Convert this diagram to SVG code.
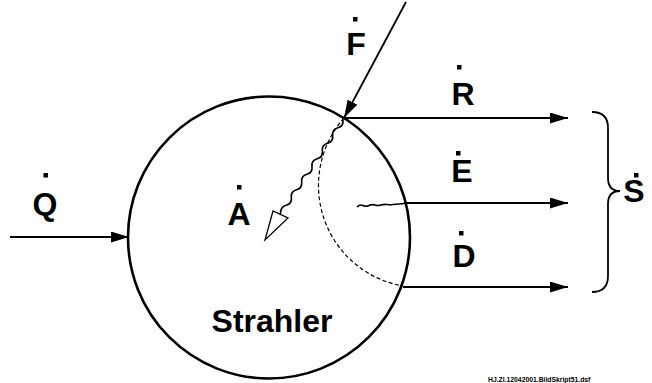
<svg xmlns="http://www.w3.org/2000/svg" width="652" height="383" viewBox="0 0 652 383">
<style>
.lbl{font-family:"Liberation Sans",Arial,sans-serif;font-weight:bold;font-size:32px;fill:#000;text-anchor:middle}
.dot{fill:#000}
.ln{stroke:#000;stroke-width:1.8;fill:none}
.wv{stroke:#000;stroke-width:1.6;fill:none}
.foot{font-family:"Liberation Sans",Arial,sans-serif;font-weight:bold;font-size:6.8px;fill:#000}
</style>
<defs>
<marker id="ah" markerUnits="userSpaceOnUse" markerWidth="19" markerHeight="11" refX="18" refY="5.5" orient="auto">
<path d="M0,0 L18,5.5 L0,11 z" fill="#000"/>
</marker>
</defs>
<g id="strahler">
<circle cx="269" cy="237.5" r="141" fill="none" stroke="#000" stroke-width="2.6"/>
<text class="lbl" x="272" y="332">Strahler</text>
</g>
<g id="dashed-arc">
<path d="M344,118 A102,102 0 0 0 403,286" fill="none" stroke="#000" stroke-width="1.2" stroke-dasharray="4,2.5"/>
</g>
<g id="connectors">
<line class="ln" x1="10" y1="237" x2="129" y2="237" marker-end="url(#ah)"/>
<line class="ln" x1="406" y1="2" x2="344" y2="118" marker-end="url(#ah)"/>
<line class="ln" x1="344" y1="118" x2="568" y2="118" marker-end="url(#ah)"/>
<line class="ln" x1="406" y1="203" x2="568" y2="203" marker-end="url(#ah)"/>
<line class="ln" x1="403" y1="287" x2="568" y2="287" marker-end="url(#ah)"/>
<path class="wv" d="M343,120 Q343.7,126.1 337.83,127.75 Q332,129.4 332.67,135.5 Q333.4,141.6 327.5,143.25 Q321.6,144.9 322.33,151 Q323.1,157.1 317.17,158.75 Q311.3,160.4 312,166.5 Q312.7,172.6 306.83,174.25 Q301,175.9 301.67,182 Q302.4,188.1 296.5,189.75 Q290.6,191.4 291.33,197.5 Q292.1,203.6 286.17,205.25 Q280.3,206.9 280.5,214"/>
<path d="M265,240 L273,211 L288,218 z" fill="#fff" stroke="#000" stroke-width="1.3"/>
<path class="wv" d="M357,207 q3,-3 6,-1.5 t6,0 t6,-0.5 t6,0 t6,-0.5 t6,0 t6,-0.5 t7,-1"/>
</g>
<g id="label-Q"><text class="lbl" x="45" y="215">Q</text><rect class="dot" x="43.5" y="173" width="4.5" height="4.5"/></g>
<g id="label-F"><text class="lbl" x="356" y="55">F</text><rect class="dot" x="353" y="17" width="4.5" height="4.5"/></g>
<g id="label-A"><text class="lbl" x="239" y="225">A</text><rect class="dot" x="237" y="185" width="4.5" height="4.5"/></g>
<g id="label-R"><text class="lbl" x="463" y="105">R</text><rect class="dot" x="457" y="65" width="4.5" height="4.5"/></g>
<g id="label-E"><text class="lbl" x="462" y="182">E</text><rect class="dot" x="456" y="151" width="4.5" height="4.5"/></g>
<g id="label-D"><text class="lbl" x="464" y="267">D</text><rect class="dot" x="459" y="231" width="4.5" height="4.5"/></g>
<g id="label-S">
<path d="M592,112 Q608,112 608,128 L608,178 Q608,191 620,191 Q608,191 608,204 L608,276 Q608,292 592,292" fill="none" stroke="#000" stroke-width="1.8"/>
<text class="lbl" x="634" y="202">S</text><rect class="dot" x="634" y="173" width="4.5" height="4.5"/>
</g>
<text class="foot" x="488" y="382">HJ.Zl.12042001.BildSkript51.dsf</text>
</svg>
